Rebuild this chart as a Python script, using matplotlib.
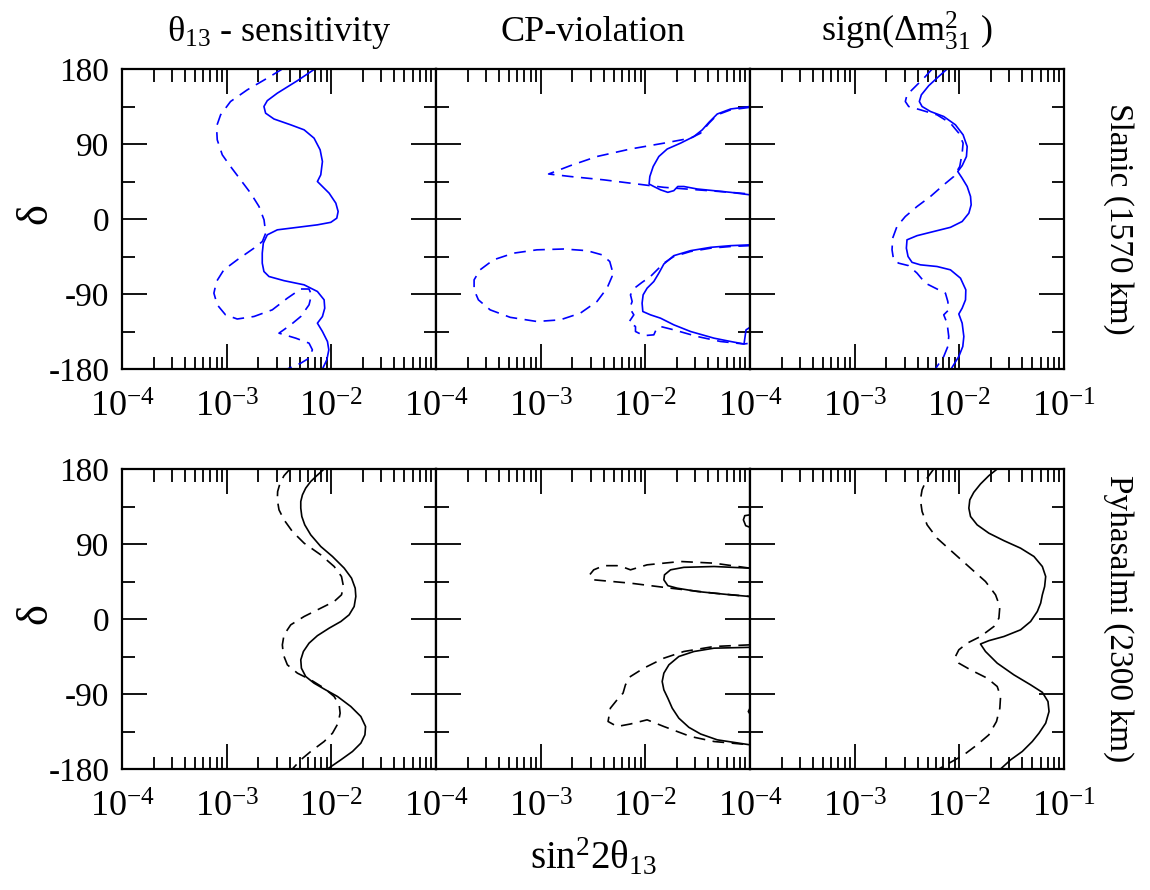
import numpy as np
import matplotlib
matplotlib.use("Agg")
import matplotlib.pyplot as plt
from matplotlib.ticker import FixedLocator, LogLocator, NullFormatter, FixedFormatter

plt.rcParams['font.family'] = ['Liberation Serif', 'DejaVu Serif']
plt.rcParams['mathtext.fontset'] = 'custom'
plt.rcParams['mathtext.rm'] = 'Liberation Serif'
plt.rcParams['mathtext.it'] = 'Liberation Serif:italic'
plt.rcParams['mathtext.bf'] = 'Liberation Serif:bold'

# ---------------- data (x given as log10 of sin^2 2theta13, y = delta in degrees) ----------------
col_titles = [r'θ$_{13}$ - sensitivity', 'CP-violation', r'sign($\Delta$m$^{2}_{31}$ )']
row_labels = ['Slanic (1570 km)', 'Pyhasalmi (2300 km)']
xtick_vals = [1e-4, 1e-3, 1e-2, 1e-1]
xtick_labels = [r'10$^{-4}$', r'10$^{-3}$', r'10$^{-2}$', r'10$^{-1}$']
ytick_vals = [-180, -90, 0, 90, 180]

# Slanic, theta13 sensitivity
sl_th_solid_lx = [-2.158, -2.324, -2.516, -2.612, -2.644, -2.628, -2.548, -2.388, -2.26, -2.165, -2.107, -2.085,
                  -2.101, -2.133, -2.101, -2.021, -1.957, -1.935, -1.948, -2.005, -2.133, -2.324, -2.516, -2.612,
                  -2.65, -2.66, -2.66, -2.644, -2.596, -2.452, -2.26, -2.133, -2.069, -2.063, -2.085, -2.133,
                  -2.085, -2.037, -2.024, -2.043, -2.085]
sl_th_solid_d = [180, 166, 151, 142, 135, 127, 120, 113, 107, 97, 83, 69, 53, 45, 41, 31, 19, 9, 1, -4, -7, -10,
                 -13, -19, -29, -41, -53, -63, -69, -74, -79, -87, -97, -107, -117, -125, -135, -147, -157, -169,
                 -180]
sl_th_dash_lx = [-2.468, -2.612, -2.803, -2.963, -3.058, -3.097, -3.09, -3.042, -2.963, -2.867, -2.771, -2.691,
                 -2.643, -2.627, -2.659, -2.739, -2.899, -3.027, -3.097, -3.122, -3.09, -3.011, -2.899, -2.739,
                 -2.564, -2.42, -2.292, -2.213, -2.19, -2.213, -2.292, -2.388, -2.5, -2.34, -2.213, -2.181,
                 -2.213, -2.292, -2.42]
sl_th_dash_d = [180, 169, 155, 141, 125, 111, 95, 77, 63, 47, 31, 15, -1, -17, -27, -35, -49, -61, -75, -89,
                -103, -115, -120, -117, -109, -95, -84, -84, -91, -103, -117, -127, -137, -143, -149, -157, -167,
                -173, -180]

# Slanic, CP violation
sl_cp_up_dash_lx = [-1.0, -1.185, -1.313, -1.392, -1.472, -1.568, -1.823, -2.142, -2.462, -2.717, -2.924, -2.717,
                    -2.398, -2.079, -1.823, -1.504, -1.185, -1.0]
sl_cp_up_dash_d = [134, 131, 125, 115, 103, 97, 91, 84, 75, 64, 54, 51, 47, 42, 38, 35, 32, 30]
sl_cp_up_solid_lx = [-1.0, -1.185, -1.313, -1.392, -1.456, -1.536, -1.664, -1.791, -1.871, -1.925, -1.957, -1.964,
                     -1.919, -1.855, -1.785, -1.728, -1.69, -1.632, -1.504, -1.185, -1.0]
sl_cp_up_solid_d = [135, 132, 126, 116, 107, 99, 91, 84, 75, 63, 51, 42, 39, 35, 32, 34, 39, 39, 36, 32, 29]
sl_cp_ell_dash_lx = [-2.318, -2.34, -2.414, -2.557, -2.781, -3.036, -3.259, -3.451, -3.579, -3.636, -3.636,
                     -3.595, -3.483, -3.291, -3.036, -2.813, -2.621, -2.462, -2.366, -2.318, -2.318]
sl_cp_ell_dash_d = [-61, -51, -43, -38, -36, -37, -41, -49, -61, -73, -85, -97, -109, -118, -123, -121, -113, -99,
                    -83, -69, -61]
sl_cp_lo_dash_lx = [-1.0, -1.185, -1.376, -1.568, -1.728, -1.823, -1.887, -1.951, -2.031, -2.104, -2.142, -2.126,
                    -2.149, -2.11, -2.158, -2.094, -2.094, -2.015, -1.919, -1.894, -1.855, -1.728, -1.504, -1.281,
                    -1.057, -1.0]
sl_cp_lo_dash_d = [-32, -33, -35, -39, -45, -53, -61, -69, -76, -83, -91, -99, -107, -115, -124, -129, -135, -140,
                   -139, -132, -129, -133, -141, -147, -150, -149]
sl_cp_lo_solid_lx = [-1.0, -1.185, -1.376, -1.568, -1.728, -1.823, -1.871, -1.919, -1.983, -2.021, -2.031, -2.024,
                     -1.951, -1.855, -1.728, -1.568, -1.344, -1.185, -1.057, -1.047, -1.038, -1.0]
sl_cp_lo_solid_d = [-31, -32, -34, -38, -44, -54, -65, -75, -83, -91, -101, -111, -115, -119, -127, -135, -143,
                    -147, -150, -141, -133, -130]

# Slanic, sign(dm31^2)
sl_sg_solid_lx = [-2.117, -2.197, -2.292, -2.363, -2.382, -2.356, -2.276, -2.149, -2.037, -1.964, -1.925, -1.932,
                  -1.973, -2.015, -1.973, -1.925, -1.893, -1.887, -1.909, -1.973, -2.085, -2.245, -2.404, -2.5,
                  -2.506, -2.49, -2.452, -2.372, -2.213, -2.085, -1.989, -1.938, -1.941, -1.973, -2.005, -1.973,
                  -1.957, -1.967, -2.005, -2.079]
sl_sg_solid_d = [180, 171, 160, 149, 141, 135, 129, 123, 113, 101, 87, 75, 64, 57, 49, 39, 27, 17, 7, -3, -10,
                 -15, -20, -25, -35, -45, -52, -55, -57, -61, -71, -85, -97, -107, -114, -125, -141, -153, -165,
                 -180]
sl_sg_dash_lx = [-2.26, -2.324, -2.42, -2.5, -2.516, -2.484, -2.372, -2.213, -2.085, -2.005, -1.964, -1.973, -1.996,
                 -2.053, -2.149, -2.276, -2.404, -2.516, -2.596, -2.637, -2.643, -2.628, -2.58, -2.484, -2.404,
                 -2.324, -2.213, -2.133, -2.11, -2.101, -2.149, -2.117, -2.101, -2.11, -2.149, -2.213, -2.229]
sl_sg_dash_d = [180, 171, 159, 149, 141, 135, 131, 125, 115, 103, 91, 79, 63, 51, 41, 27, 15, 3, -9, -23, -37,
                -49, -53, -56, -65, -77, -84, -89, -99, -109, -115, -125, -141, -153, -165, -177, -180]

# Pyhasalmi, theta13 sensitivity
py_th_solid_lx = [-2.069, -2.139, -2.197, -2.245, -2.276, -2.292, -2.292, -2.282, -2.254, -2.197, -2.101, -1.989,
                  -1.877, -1.807, -1.772, -1.766, -1.782, -1.83, -1.909, -2.021, -2.133, -2.213, -2.267, -2.292,
                  -2.286, -2.245, -2.165, -2.069, -1.941, -1.814, -1.718, -1.673, -1.679, -1.718, -1.798, -1.909,
                  -2.037]
py_th_solid_d = [180, 172, 165, 157, 149, 141, 133, 123, 113, 101, 87, 75, 61, 49, 37, 27, 15, 5, -3, -11, -20,
                 -29, -39, -49, -59, -69, -77, -84, -93, -105, -117, -129, -139, -149, -159, -169, -180]
py_th_dash_lx = [-2.395, -2.452, -2.49, -2.513, -2.516, -2.5, -2.452, -2.372, -2.26, -2.101, -1.973, -1.903,
                 -1.884, -1.903, -1.973, -2.101, -2.26, -2.388, -2.452, -2.468, -2.458, -2.42, -2.324, -2.197,
                 -2.069, -1.973, -1.925, -1.916, -1.935, -1.989, -2.069, -2.197, -2.292, -2.372]
py_th_dash_d = [180, 172, 163, 153, 143, 131, 119, 105, 91, 77, 63, 51, 39, 29, 21, 13, 3, -7, -19, -31, -43, -55,
                -65, -73, -83, -93, -103, -113, -125, -137, -147, -159, -169, -180]

# Pyhasalmi, CP violation
py_cp_up_dash_lx = [-1.0, -1.344, -1.664, -1.983, -2.142, -2.206, -2.27, -2.398, -2.493, -2.532, -2.493, -2.142,
                    -1.759, -1.344, -1.0]
py_cp_up_dash_d = [61, 67, 69, 65, 59, 62, 64, 64, 59, 53, 47, 43, 37, 31, 27]
py_cp_up_solid_lx = [-1.0, -1.344, -1.632, -1.759, -1.817, -1.823, -1.785, -1.696, -1.504, -1.185, -1.0]
py_cp_up_solid_d = [61, 63, 62, 59, 53, 47, 40, 37, 33, 29, 27]
py_cp_isl_solid_lx = [-1.0, -1.05, -1.063, -1.041, -1.0]
py_cp_isl_solid_d = [125, 124, 119, 112, 110]
py_cp_lo_dash_lx = [-1.0, -1.344, -1.632, -1.823, -2.015, -2.142, -2.19, -2.213, -2.27, -2.334, -2.356, -2.27,
                    -2.142, -1.983, -1.823, -1.568, -1.344, -1.0]
py_cp_lo_dash_d = [-31, -33, -39, -47, -59, -69, -79, -89, -97, -107, -123, -129, -126, -121, -129, -141, -147, -151]
py_cp_lo_solid_lx = [-1.0, -1.344, -1.536, -1.68, -1.775, -1.823, -1.839, -1.823, -1.785, -1.743, -1.68, -1.584,
                     -1.472, -1.313, -1.0]
py_cp_lo_solid_d = [-34, -35, -39, -45, -55, -65, -75, -85, -95, -107, -119, -130, -138, -145, -151]
py_cp_arc_solid_lx = [-1.0, -1.016, -1.0]
py_cp_arc_solid_d = [-107, -111, -114]

# Pyhasalmi, sign(dm31^2)
py_sg_solid_lx = [-1.638, -1.718, -1.798, -1.862, -1.9, -1.909, -1.893, -1.83, -1.718, -1.574, -1.415, -1.287,
                  -1.207, -1.175, -1.185, -1.207, -1.223, -1.255, -1.319, -1.415, -1.574, -1.718, -1.798, -1.75,
                  -1.638, -1.479, -1.319, -1.207, -1.153, -1.143, -1.175, -1.239, -1.303, -1.399, -1.51, -1.606]
py_sg_solid_d = [180, 172, 162, 152, 143, 133, 123, 113, 103, 94, 85, 75, 63, 51, 39, 29, 19, 9, -3, -13, -21,
                 -26, -30, -39, -53, -67, -79, -88, -99, -111, -125, -137, -147, -159, -169, -180]
py_sg_dash_lx = [-2.245, -2.308, -2.356, -2.372, -2.356, -2.308, -2.213, -2.053, -1.893, -1.75, -1.654, -1.613,
                 -1.622, -1.67, -1.798, -1.925, -2.005, -2.037, -2.005, -1.893, -1.734, -1.638, -1.606, -1.613,
                 -1.645, -1.718, -1.83, -1.957, -2.197]
py_sg_dash_d = [180, 169, 155, 143, 129, 113, 97, 79, 61, 45, 29, 15, 1, -9, -21, -29, -37, -45, -53, -61, -71,
                -81, -93, -107, -123, -139, -151, -163, -180]

panels = [
    [  # Slanic
        [(sl_th_solid_lx, sl_th_solid_d, '-'), (sl_th_dash_lx, sl_th_dash_d, '--')],
        [(sl_cp_up_dash_lx, sl_cp_up_dash_d, '--'), (sl_cp_up_solid_lx, sl_cp_up_solid_d, '-'),
         (sl_cp_ell_dash_lx, sl_cp_ell_dash_d, '--'), (sl_cp_lo_dash_lx, sl_cp_lo_dash_d, '--'),
         (sl_cp_lo_solid_lx, sl_cp_lo_solid_d, '-')],
        [(sl_sg_solid_lx, sl_sg_solid_d, '-'), (sl_sg_dash_lx, sl_sg_dash_d, '--')],
    ],
    [  # Pyhasalmi
        [(py_th_solid_lx, py_th_solid_d, '-'), (py_th_dash_lx, py_th_dash_d, '--')],
        [(py_cp_up_dash_lx, py_cp_up_dash_d, '--'), (py_cp_up_solid_lx, py_cp_up_solid_d, '-'),
         (py_cp_isl_solid_lx, py_cp_isl_solid_d, '-'), (py_cp_lo_dash_lx, py_cp_lo_dash_d, '--'),
         (py_cp_lo_solid_lx, py_cp_lo_solid_d, '-'), (py_cp_arc_solid_lx, py_cp_arc_solid_d, '-')],
        [(py_sg_solid_lx, py_sg_solid_d, '-'), (py_sg_dash_lx, py_sg_dash_d, '--')],
    ],
]
row_colors = ['#0000ff', 'black']

# ---------------- figure ----------------
W, H = 1150, 890
fig = plt.figure(figsize=(W / 100, H / 100), dpi=100)

ax_left_px = 122
ax_w_px = 314
row_top_px = [69, 469]
ax_h_px = 300
FS = 24

for r in range(2):
    for c in range(3):
        left = (ax_left_px + c * ax_w_px) / W
        bottom = 1 - (row_top_px[r] + ax_h_px) / H
        ax = fig.add_axes([left, bottom, ax_w_px / W, ax_h_px / H])
        ax.set_xscale('log')
        ax.set_xlim(1e-4, 1e-1)
        ax.set_ylim(-180, 180)
        for lx, d, ls in panels[r][c]:
            xs = np.power(10.0, np.asarray(lx))
            if ls == '--':
                ax.plot(xs, d, color=row_colors[r], lw=1.2, linestyle=(0, (7, 4.5)),
                        solid_joinstyle='round', dash_joinstyle='round')
            else:
                ax.plot(xs, d, color=row_colors[r], lw=1.2, linestyle='-',
                        solid_joinstyle='round')
        for s in ax.spines.values():
            s.set_linewidth(1.6)
        nlab = 4 if c == 2 else 3
        ax.xaxis.set_major_locator(FixedLocator(xtick_vals[:nlab] if c < 2 else xtick_vals))
        ax.xaxis.set_major_formatter(FixedFormatter(xtick_labels[:nlab]))
        ax.xaxis.set_minor_locator(LogLocator(base=10, subs=np.arange(2, 10), numticks=20))
        ax.xaxis.set_minor_formatter(NullFormatter())
        ax.yaxis.set_major_locator(FixedLocator(ytick_vals))
        ax.yaxis.set_minor_locator(FixedLocator([-135, -45, 45, 135]))
        if c == 0:
            ax.set_yticklabels([str(v) for v in ytick_vals])
        else:
            ax.set_yticklabels([])
        ax.tick_params(which='both', direction='in', top=True, right=True, width=1.3, color='black')
        ax.tick_params(which='major', length=18)
        ax.tick_params(which='minor', length=9)
        ax.tick_params(axis='x', which='major', labelsize=FS + 2, pad=16)
        ax.tick_params(axis='y', which='major', labelsize=FS, pad=9)
        if r == 0:
            ax.set_title(col_titles[c], fontsize=26, pad=20)
        if c == 2:
            ax.yaxis.set_label_position('right')
            ax.set_ylabel(row_labels[r], fontsize=FS, rotation=270, labelpad=50)

for r in range(2):
    yc = row_top_px[r] + ax_h_px / 2 - 5
    fig.text(35 / W, 1 - yc / H, 'δ', rotation=90, ha='center', va='center', fontsize=32)

fig.text(593 / W, 1 - 858 / H, r'sin$^{2}$2θ$_{13}$', ha='center', va='center', fontsize=28)

fig.savefig('out.png', dpi=100)
